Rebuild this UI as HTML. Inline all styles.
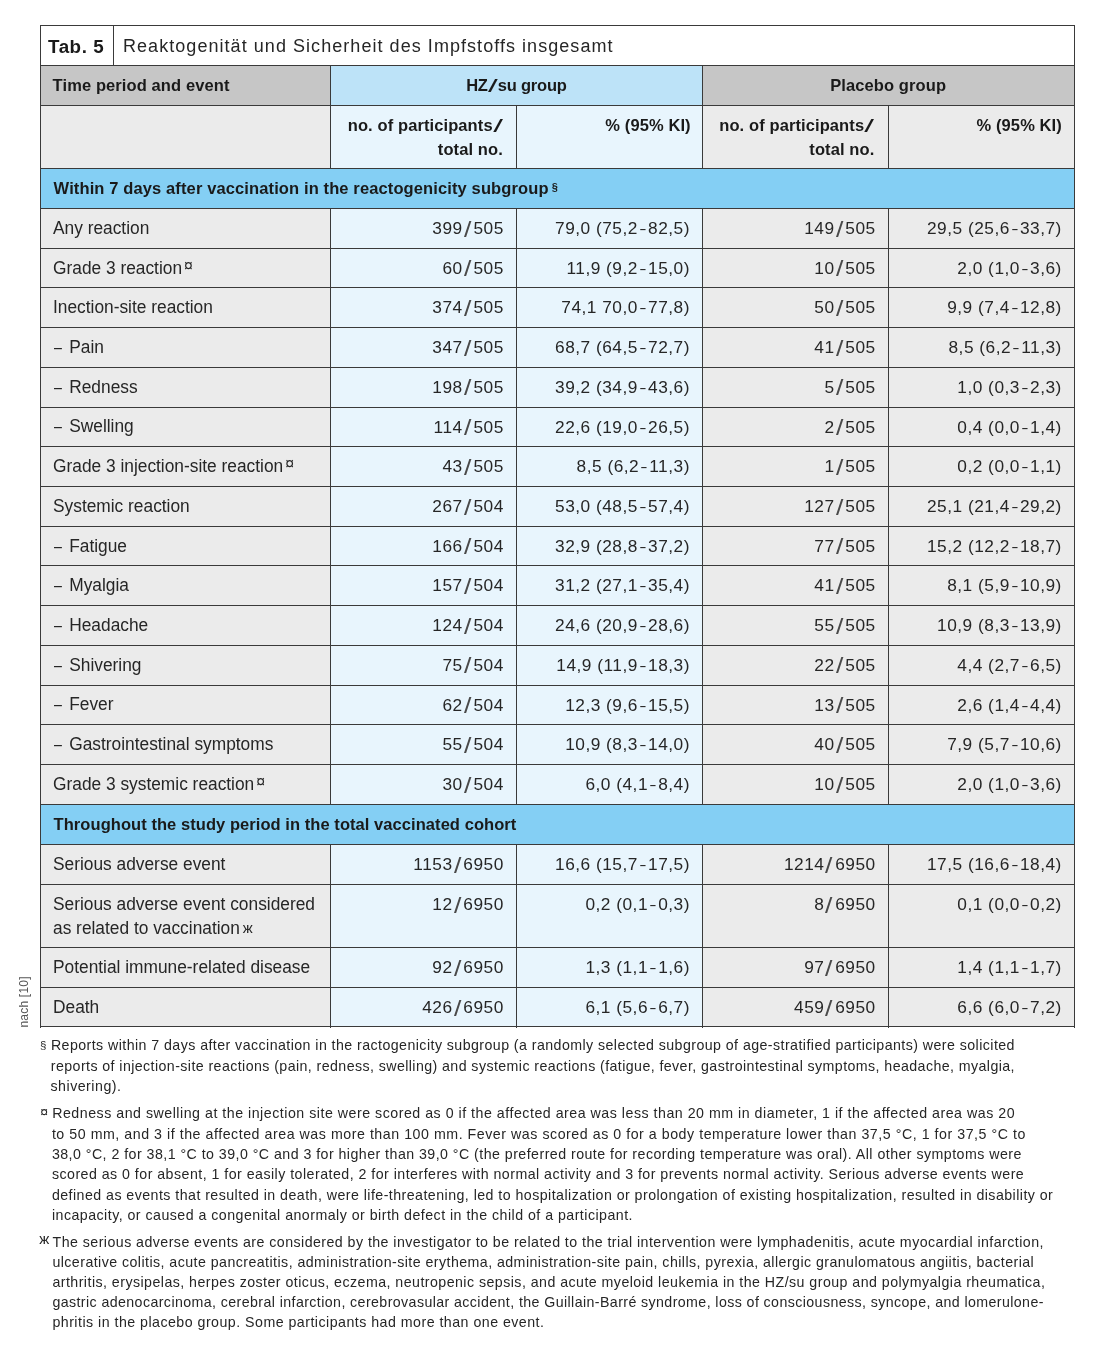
<!DOCTYPE html>
<html><head><meta charset="utf-8"><title>Tab. 5</title><style>
html,body{margin:0;padding:0;background:#fff;}
body{width:1100px;height:1355px;position:relative;overflow:hidden;font-family:"Liberation Sans",Arial,sans-serif;}
.r{position:absolute;}
.t{position:absolute;white-space:nowrap;font-family:"Liberation Sans",Arial,sans-serif;}

.sl{font-size:1.28em;line-height:0;display:inline-block;position:relative;top:0.12em;transform:scaleX(1.2);color:#4a4a4a;padding:0 2.5px 0 1.7px;}
.slh{font-weight:normal;font-size:1.12em;line-height:0;display:inline-block;transform:scaleX(1.9);padding:0 2.5px;position:relative;top:0.05em;}
.nd{display:inline-block;transform:scaleX(0.55);}
.da{display:inline-block;transform:scaleX(0.82);transform-origin:0 0;margin-left:1.4px;margin-right:0.4px;}
.sup{font-size:16px;line-height:0;position:relative;top:-3px;margin-left:2px;}
.sup2{font-size:15px;line-height:0;position:relative;top:-1.5px;margin-left:3px;}
.sec{font-size:11px;position:relative;top:-3px;margin-left:3px;font-weight:bold;}

.rot{font-size:12px;line-height:14px;color:#555;letter-spacing:0.2px;transform-origin:0 0;transform:translate(17px,1027.5px) rotate(-90deg);}
</style></head><body>
<div class="r" style="left:40.00px;top:25.70px;width:1034.00px;height:39.60px;background:#fff"></div>
<div class="r" style="left:40.00px;top:65.30px;width:290.50px;height:39.80px;background:#c6c6c6"></div>
<div class="r" style="left:330.50px;top:65.30px;width:371.80px;height:39.80px;background:#bde3f8"></div>
<div class="r" style="left:702.30px;top:65.30px;width:371.70px;height:39.80px;background:#c6c6c6"></div>
<div class="r" style="left:40.00px;top:105.10px;width:290.50px;height:63.10px;background:#ebebeb"></div>
<div class="r" style="left:330.50px;top:105.10px;width:371.80px;height:63.10px;background:#e8f5fd"></div>
<div class="r" style="left:702.30px;top:105.10px;width:371.70px;height:63.10px;background:#ebebeb"></div>
<div class="r" style="left:40.00px;top:168.20px;width:1034.00px;height:40.20px;background:#84cff4"></div>
<div class="r" style="left:40.00px;top:208.40px;width:290.50px;height:595.80px;background:#ebebeb"></div>
<div class="r" style="left:330.50px;top:208.40px;width:371.80px;height:595.80px;background:#e8f5fd"></div>
<div class="r" style="left:702.30px;top:208.40px;width:371.70px;height:595.80px;background:#ebebeb"></div>
<div class="r" style="left:40.00px;top:804.20px;width:1034.00px;height:40.30px;background:#84cff4"></div>
<div class="r" style="left:40.00px;top:844.50px;width:290.50px;height:182.50px;background:#ebebeb"></div>
<div class="r" style="left:330.50px;top:844.50px;width:371.80px;height:182.50px;background:#e8f5fd"></div>
<div class="r" style="left:702.30px;top:844.50px;width:371.70px;height:182.50px;background:#ebebeb"></div>
<div class="r" style="left:40px;top:25px;width:1035px;height:1px;background:#3a3a3a"></div>
<div class="r" style="left:40px;top:65px;width:1035px;height:1px;background:#3a3a3a"></div>
<div class="r" style="left:40px;top:105px;width:1035px;height:1px;background:#3a3a3a"></div>
<div class="r" style="left:40px;top:168px;width:1035px;height:1px;background:#3a3a3a"></div>
<div class="r" style="left:40px;top:208px;width:1035px;height:1px;background:#3a3a3a"></div>
<div class="r" style="left:40px;top:248px;width:1035px;height:1px;background:#3a3a3a"></div>
<div class="r" style="left:40px;top:287px;width:1035px;height:1px;background:#3a3a3a"></div>
<div class="r" style="left:40px;top:327px;width:1035px;height:1px;background:#3a3a3a"></div>
<div class="r" style="left:40px;top:367px;width:1035px;height:1px;background:#3a3a3a"></div>
<div class="r" style="left:40px;top:407px;width:1035px;height:1px;background:#3a3a3a"></div>
<div class="r" style="left:40px;top:446px;width:1035px;height:1px;background:#3a3a3a"></div>
<div class="r" style="left:40px;top:486px;width:1035px;height:1px;background:#3a3a3a"></div>
<div class="r" style="left:40px;top:526px;width:1035px;height:1px;background:#3a3a3a"></div>
<div class="r" style="left:40px;top:565px;width:1035px;height:1px;background:#3a3a3a"></div>
<div class="r" style="left:40px;top:605px;width:1035px;height:1px;background:#3a3a3a"></div>
<div class="r" style="left:40px;top:645px;width:1035px;height:1px;background:#3a3a3a"></div>
<div class="r" style="left:40px;top:685px;width:1035px;height:1px;background:#3a3a3a"></div>
<div class="r" style="left:40px;top:724px;width:1035px;height:1px;background:#3a3a3a"></div>
<div class="r" style="left:40px;top:764px;width:1035px;height:1px;background:#3a3a3a"></div>
<div class="r" style="left:40px;top:804px;width:1035px;height:1px;background:#3a3a3a"></div>
<div class="r" style="left:40px;top:844px;width:1035px;height:1px;background:#3a3a3a"></div>
<div class="r" style="left:40px;top:884px;width:1035px;height:1px;background:#3a3a3a"></div>
<div class="r" style="left:40px;top:947px;width:1035px;height:1px;background:#3a3a3a"></div>
<div class="r" style="left:40px;top:987px;width:1035px;height:1px;background:#3a3a3a"></div>
<div class="r" style="left:40px;top:1026px;width:1035px;height:1px;background:#3a3a3a"></div>
<div class="r" style="left:40px;top:25px;width:1px;height:1003px;background:#3a3a3a"></div>
<div class="r" style="left:1074px;top:25px;width:1px;height:1003px;background:#3a3a3a"></div>
<div class="r" style="left:113px;top:25px;width:1px;height:41px;background:#3a3a3a"></div>
<div class="r" style="left:330px;top:65px;width:1px;height:41px;background:#3a3a3a"></div>
<div class="r" style="left:702px;top:65px;width:1px;height:41px;background:#3a3a3a"></div>
<div class="r" style="left:330px;top:105px;width:1px;height:64px;background:#3a3a3a"></div>
<div class="r" style="left:516px;top:105px;width:1px;height:64px;background:#3a3a3a"></div>
<div class="r" style="left:702px;top:105px;width:1px;height:64px;background:#3a3a3a"></div>
<div class="r" style="left:888px;top:105px;width:1px;height:64px;background:#3a3a3a"></div>
<div class="r" style="left:330px;top:208px;width:1px;height:597px;background:#3a3a3a"></div>
<div class="r" style="left:516px;top:208px;width:1px;height:597px;background:#3a3a3a"></div>
<div class="r" style="left:702px;top:208px;width:1px;height:597px;background:#3a3a3a"></div>
<div class="r" style="left:888px;top:208px;width:1px;height:597px;background:#3a3a3a"></div>
<div class="r" style="left:330px;top:844px;width:1px;height:184px;background:#3a3a3a"></div>
<div class="r" style="left:516px;top:844px;width:1px;height:184px;background:#3a3a3a"></div>
<div class="r" style="left:702px;top:844px;width:1px;height:184px;background:#3a3a3a"></div>
<div class="r" style="left:888px;top:844px;width:1px;height:184px;background:#3a3a3a"></div>
<div class="t" style="left:48.00px;top:34.99px;font-size:18.8px;line-height:23px;font-weight:bold;letter-spacing:0.55px;color:#1a1a1a;">Tab. 5</div>
<div class="t" style="left:123.00px;top:35.16px;font-size:18px;line-height:22px;font-weight:normal;letter-spacing:1.05px;color:#262626;">Reaktogenität und Sicherheit des Impfstoffs insgesamt</div>
<div class="t" style="left:52.60px;top:75.18px;font-size:16.5px;line-height:20px;font-weight:bold;letter-spacing:0.1px;color:#1a1a1a;">Time period and event</div>
<div class="t" style="left:516.40px;transform:translateX(-50%);top:75.18px;font-size:16.5px;line-height:20px;font-weight:bold;letter-spacing:-0.2px;color:#1a1a1a;">HZ<span class="slh">/</span>su group</div>
<div class="t" style="left:888.15px;transform:translateX(-50%);top:75.18px;font-size:16.5px;line-height:20px;font-weight:bold;letter-spacing:0.1px;color:#1a1a1a;">Placebo group</div>
<div class="t" style="right:597.10px;top:114.78px;font-size:16.5px;line-height:20px;font-weight:bold;letter-spacing:0.1px;color:#1a1a1a;">no. of participants<span class="slh">/</span></div>
<div class="t" style="right:597.10px;top:139.38px;font-size:16.5px;line-height:20px;font-weight:bold;letter-spacing:0.1px;color:#1a1a1a;">total no.</div>
<div class="t" style="right:225.60px;top:114.78px;font-size:16.5px;line-height:20px;font-weight:bold;letter-spacing:0.1px;color:#1a1a1a;">no. of participants<span class="slh">/</span></div>
<div class="t" style="right:225.60px;top:139.38px;font-size:16.5px;line-height:20px;font-weight:bold;letter-spacing:0.1px;color:#1a1a1a;">total no.</div>
<div class="t" style="right:409.30px;top:114.78px;font-size:16.5px;line-height:20px;font-weight:bold;letter-spacing:0.1px;color:#1a1a1a;">% (95% KI)</div>
<div class="t" style="right:38.10px;top:114.78px;font-size:16.5px;line-height:20px;font-weight:bold;letter-spacing:0.1px;color:#1a1a1a;">% (95% KI)</div>
<div class="t" style="left:53.60px;top:178.38px;font-size:16.5px;line-height:20px;font-weight:bold;letter-spacing:0.12px;color:#1a1a1a;">Within 7 days after vaccination in the reactogenicity subgroup<span class="sec">§</span></div>
<div class="t" style="left:53.60px;top:814.38px;font-size:16.5px;line-height:20px;font-weight:bold;letter-spacing:0.06px;color:#1a1a1a;">Throughout the study period in the total vaccinated cohort</div>
<div class="t" style="left:52.70px;top:217.84px;font-size:17.5px;line-height:21px;font-weight:normal;letter-spacing:0px;color:#262626;transform:scaleX(0.99);transform-origin:0 0;">Any reaction</div>
<div class="t" style="right:596.20px;top:217.91px;font-size:17.3px;line-height:21px;font-weight:normal;letter-spacing:0.5px;color:#262626;">399<span class="sl">/</span>505</div>
<div class="t" style="right:410.10px;top:217.91px;font-size:17.3px;line-height:21px;font-weight:normal;letter-spacing:0.5px;color:#262626;">79,0 (75,2<span class="nd">–</span>82,5)</div>
<div class="t" style="right:224.30px;top:217.91px;font-size:17.3px;line-height:21px;font-weight:normal;letter-spacing:0.5px;color:#262626;">149<span class="sl">/</span>505</div>
<div class="t" style="right:38.20px;top:217.91px;font-size:17.3px;line-height:21px;font-weight:normal;letter-spacing:0.5px;color:#262626;">29,5 (25,6<span class="nd">–</span>33,7)</div>
<div class="t" style="left:52.70px;top:257.56px;font-size:17.5px;line-height:21px;font-weight:normal;letter-spacing:0px;color:#262626;transform:scaleX(0.99);transform-origin:0 0;">Grade 3 reaction<span class="sup">¤</span></div>
<div class="t" style="right:596.20px;top:257.63px;font-size:17.3px;line-height:21px;font-weight:normal;letter-spacing:0.5px;color:#262626;">60<span class="sl">/</span>505</div>
<div class="t" style="right:410.10px;top:257.63px;font-size:17.3px;line-height:21px;font-weight:normal;letter-spacing:0.5px;color:#262626;">11,9 (9,2<span class="nd">–</span>15,0)</div>
<div class="t" style="right:224.30px;top:257.63px;font-size:17.3px;line-height:21px;font-weight:normal;letter-spacing:0.5px;color:#262626;">10<span class="sl">/</span>505</div>
<div class="t" style="right:38.20px;top:257.63px;font-size:17.3px;line-height:21px;font-weight:normal;letter-spacing:0.5px;color:#262626;">2,0 (1,0<span class="nd">–</span>3,6)</div>
<div class="t" style="left:52.70px;top:297.28px;font-size:17.5px;line-height:21px;font-weight:normal;letter-spacing:0px;color:#262626;transform:scaleX(0.99);transform-origin:0 0;">Inection-site reaction</div>
<div class="t" style="right:596.20px;top:297.35px;font-size:17.3px;line-height:21px;font-weight:normal;letter-spacing:0.5px;color:#262626;">374<span class="sl">/</span>505</div>
<div class="t" style="right:410.10px;top:297.35px;font-size:17.3px;line-height:21px;font-weight:normal;letter-spacing:0.5px;color:#262626;">74,1 70,0<span class="nd">–</span>77,8)</div>
<div class="t" style="right:224.30px;top:297.35px;font-size:17.3px;line-height:21px;font-weight:normal;letter-spacing:0.5px;color:#262626;">50<span class="sl">/</span>505</div>
<div class="t" style="right:38.20px;top:297.35px;font-size:17.3px;line-height:21px;font-weight:normal;letter-spacing:0.5px;color:#262626;">9,9 (7,4<span class="nd">–</span>12,8)</div>
<div class="t" style="left:52.70px;top:337.00px;font-size:17.5px;line-height:21px;font-weight:normal;letter-spacing:0px;color:#262626;transform:scaleX(0.99);transform-origin:0 0;"><span class="da">–</span> Pain</div>
<div class="t" style="right:596.20px;top:337.07px;font-size:17.3px;line-height:21px;font-weight:normal;letter-spacing:0.5px;color:#262626;">347<span class="sl">/</span>505</div>
<div class="t" style="right:410.10px;top:337.07px;font-size:17.3px;line-height:21px;font-weight:normal;letter-spacing:0.5px;color:#262626;">68,7 (64,5<span class="nd">–</span>72,7)</div>
<div class="t" style="right:224.30px;top:337.07px;font-size:17.3px;line-height:21px;font-weight:normal;letter-spacing:0.5px;color:#262626;">41<span class="sl">/</span>505</div>
<div class="t" style="right:38.20px;top:337.07px;font-size:17.3px;line-height:21px;font-weight:normal;letter-spacing:0.5px;color:#262626;">8,5 (6,2<span class="nd">–</span>11,3)</div>
<div class="t" style="left:52.70px;top:376.72px;font-size:17.5px;line-height:21px;font-weight:normal;letter-spacing:0px;color:#262626;transform:scaleX(0.99);transform-origin:0 0;"><span class="da">–</span> Redness</div>
<div class="t" style="right:596.20px;top:376.79px;font-size:17.3px;line-height:21px;font-weight:normal;letter-spacing:0.5px;color:#262626;">198<span class="sl">/</span>505</div>
<div class="t" style="right:410.10px;top:376.79px;font-size:17.3px;line-height:21px;font-weight:normal;letter-spacing:0.5px;color:#262626;">39,2 (34,9<span class="nd">–</span>43,6)</div>
<div class="t" style="right:224.30px;top:376.79px;font-size:17.3px;line-height:21px;font-weight:normal;letter-spacing:0.5px;color:#262626;">5<span class="sl">/</span>505</div>
<div class="t" style="right:38.20px;top:376.79px;font-size:17.3px;line-height:21px;font-weight:normal;letter-spacing:0.5px;color:#262626;">1,0 (0,3<span class="nd">–</span>2,3)</div>
<div class="t" style="left:52.70px;top:416.44px;font-size:17.5px;line-height:21px;font-weight:normal;letter-spacing:0px;color:#262626;transform:scaleX(0.99);transform-origin:0 0;"><span class="da">–</span> Swelling</div>
<div class="t" style="right:596.20px;top:416.51px;font-size:17.3px;line-height:21px;font-weight:normal;letter-spacing:0.5px;color:#262626;">114<span class="sl">/</span>505</div>
<div class="t" style="right:410.10px;top:416.51px;font-size:17.3px;line-height:21px;font-weight:normal;letter-spacing:0.5px;color:#262626;">22,6 (19,0<span class="nd">–</span>26,5)</div>
<div class="t" style="right:224.30px;top:416.51px;font-size:17.3px;line-height:21px;font-weight:normal;letter-spacing:0.5px;color:#262626;">2<span class="sl">/</span>505</div>
<div class="t" style="right:38.20px;top:416.51px;font-size:17.3px;line-height:21px;font-weight:normal;letter-spacing:0.5px;color:#262626;">0,4 (0,0<span class="nd">–</span>1,4)</div>
<div class="t" style="left:52.70px;top:456.16px;font-size:17.5px;line-height:21px;font-weight:normal;letter-spacing:0px;color:#262626;transform:scaleX(0.99);transform-origin:0 0;">Grade 3 injection-site reaction<span class="sup">¤</span></div>
<div class="t" style="right:596.20px;top:456.23px;font-size:17.3px;line-height:21px;font-weight:normal;letter-spacing:0.5px;color:#262626;">43<span class="sl">/</span>505</div>
<div class="t" style="right:410.10px;top:456.23px;font-size:17.3px;line-height:21px;font-weight:normal;letter-spacing:0.5px;color:#262626;">8,5 (6,2<span class="nd">–</span>11,3)</div>
<div class="t" style="right:224.30px;top:456.23px;font-size:17.3px;line-height:21px;font-weight:normal;letter-spacing:0.5px;color:#262626;">1<span class="sl">/</span>505</div>
<div class="t" style="right:38.20px;top:456.23px;font-size:17.3px;line-height:21px;font-weight:normal;letter-spacing:0.5px;color:#262626;">0,2 (0,0<span class="nd">–</span>1,1)</div>
<div class="t" style="left:52.70px;top:495.88px;font-size:17.5px;line-height:21px;font-weight:normal;letter-spacing:0px;color:#262626;transform:scaleX(0.99);transform-origin:0 0;">Systemic reaction</div>
<div class="t" style="right:596.20px;top:495.95px;font-size:17.3px;line-height:21px;font-weight:normal;letter-spacing:0.5px;color:#262626;">267<span class="sl">/</span>504</div>
<div class="t" style="right:410.10px;top:495.95px;font-size:17.3px;line-height:21px;font-weight:normal;letter-spacing:0.5px;color:#262626;">53,0 (48,5<span class="nd">–</span>57,4)</div>
<div class="t" style="right:224.30px;top:495.95px;font-size:17.3px;line-height:21px;font-weight:normal;letter-spacing:0.5px;color:#262626;">127<span class="sl">/</span>505</div>
<div class="t" style="right:38.20px;top:495.95px;font-size:17.3px;line-height:21px;font-weight:normal;letter-spacing:0.5px;color:#262626;">25,1 (21,4<span class="nd">–</span>29,2)</div>
<div class="t" style="left:52.70px;top:535.60px;font-size:17.5px;line-height:21px;font-weight:normal;letter-spacing:0px;color:#262626;transform:scaleX(0.99);transform-origin:0 0;"><span class="da">–</span> Fatigue</div>
<div class="t" style="right:596.20px;top:535.67px;font-size:17.3px;line-height:21px;font-weight:normal;letter-spacing:0.5px;color:#262626;">166<span class="sl">/</span>504</div>
<div class="t" style="right:410.10px;top:535.67px;font-size:17.3px;line-height:21px;font-weight:normal;letter-spacing:0.5px;color:#262626;">32,9 (28,8<span class="nd">–</span>37,2)</div>
<div class="t" style="right:224.30px;top:535.67px;font-size:17.3px;line-height:21px;font-weight:normal;letter-spacing:0.5px;color:#262626;">77<span class="sl">/</span>505</div>
<div class="t" style="right:38.20px;top:535.67px;font-size:17.3px;line-height:21px;font-weight:normal;letter-spacing:0.5px;color:#262626;">15,2 (12,2<span class="nd">–</span>18,7)</div>
<div class="t" style="left:52.70px;top:575.32px;font-size:17.5px;line-height:21px;font-weight:normal;letter-spacing:0px;color:#262626;transform:scaleX(0.99);transform-origin:0 0;"><span class="da">–</span> Myalgia</div>
<div class="t" style="right:596.20px;top:575.39px;font-size:17.3px;line-height:21px;font-weight:normal;letter-spacing:0.5px;color:#262626;">157<span class="sl">/</span>504</div>
<div class="t" style="right:410.10px;top:575.39px;font-size:17.3px;line-height:21px;font-weight:normal;letter-spacing:0.5px;color:#262626;">31,2 (27,1<span class="nd">–</span>35,4)</div>
<div class="t" style="right:224.30px;top:575.39px;font-size:17.3px;line-height:21px;font-weight:normal;letter-spacing:0.5px;color:#262626;">41<span class="sl">/</span>505</div>
<div class="t" style="right:38.20px;top:575.39px;font-size:17.3px;line-height:21px;font-weight:normal;letter-spacing:0.5px;color:#262626;">8,1 (5,9<span class="nd">–</span>10,9)</div>
<div class="t" style="left:52.70px;top:615.04px;font-size:17.5px;line-height:21px;font-weight:normal;letter-spacing:0px;color:#262626;transform:scaleX(0.99);transform-origin:0 0;"><span class="da">–</span> Headache</div>
<div class="t" style="right:596.20px;top:615.11px;font-size:17.3px;line-height:21px;font-weight:normal;letter-spacing:0.5px;color:#262626;">124<span class="sl">/</span>504</div>
<div class="t" style="right:410.10px;top:615.11px;font-size:17.3px;line-height:21px;font-weight:normal;letter-spacing:0.5px;color:#262626;">24,6 (20,9<span class="nd">–</span>28,6)</div>
<div class="t" style="right:224.30px;top:615.11px;font-size:17.3px;line-height:21px;font-weight:normal;letter-spacing:0.5px;color:#262626;">55<span class="sl">/</span>505</div>
<div class="t" style="right:38.20px;top:615.11px;font-size:17.3px;line-height:21px;font-weight:normal;letter-spacing:0.5px;color:#262626;">10,9 (8,3<span class="nd">–</span>13,9)</div>
<div class="t" style="left:52.70px;top:654.76px;font-size:17.5px;line-height:21px;font-weight:normal;letter-spacing:0px;color:#262626;transform:scaleX(0.99);transform-origin:0 0;"><span class="da">–</span> Shivering</div>
<div class="t" style="right:596.20px;top:654.83px;font-size:17.3px;line-height:21px;font-weight:normal;letter-spacing:0.5px;color:#262626;">75<span class="sl">/</span>504</div>
<div class="t" style="right:410.10px;top:654.83px;font-size:17.3px;line-height:21px;font-weight:normal;letter-spacing:0.5px;color:#262626;">14,9 (11,9<span class="nd">–</span>18,3)</div>
<div class="t" style="right:224.30px;top:654.83px;font-size:17.3px;line-height:21px;font-weight:normal;letter-spacing:0.5px;color:#262626;">22<span class="sl">/</span>505</div>
<div class="t" style="right:38.20px;top:654.83px;font-size:17.3px;line-height:21px;font-weight:normal;letter-spacing:0.5px;color:#262626;">4,4 (2,7<span class="nd">–</span>6,5)</div>
<div class="t" style="left:52.70px;top:694.48px;font-size:17.5px;line-height:21px;font-weight:normal;letter-spacing:0px;color:#262626;transform:scaleX(0.99);transform-origin:0 0;"><span class="da">–</span> Fever</div>
<div class="t" style="right:596.20px;top:694.55px;font-size:17.3px;line-height:21px;font-weight:normal;letter-spacing:0.5px;color:#262626;">62<span class="sl">/</span>504</div>
<div class="t" style="right:410.10px;top:694.55px;font-size:17.3px;line-height:21px;font-weight:normal;letter-spacing:0.5px;color:#262626;">12,3 (9,6<span class="nd">–</span>15,5)</div>
<div class="t" style="right:224.30px;top:694.55px;font-size:17.3px;line-height:21px;font-weight:normal;letter-spacing:0.5px;color:#262626;">13<span class="sl">/</span>505</div>
<div class="t" style="right:38.20px;top:694.55px;font-size:17.3px;line-height:21px;font-weight:normal;letter-spacing:0.5px;color:#262626;">2,6 (1,4<span class="nd">–</span>4,4)</div>
<div class="t" style="left:52.70px;top:734.20px;font-size:17.5px;line-height:21px;font-weight:normal;letter-spacing:0px;color:#262626;transform:scaleX(0.99);transform-origin:0 0;"><span class="da">–</span> Gastrointestinal symptoms</div>
<div class="t" style="right:596.20px;top:734.27px;font-size:17.3px;line-height:21px;font-weight:normal;letter-spacing:0.5px;color:#262626;">55<span class="sl">/</span>504</div>
<div class="t" style="right:410.10px;top:734.27px;font-size:17.3px;line-height:21px;font-weight:normal;letter-spacing:0.5px;color:#262626;">10,9 (8,3<span class="nd">–</span>14,0)</div>
<div class="t" style="right:224.30px;top:734.27px;font-size:17.3px;line-height:21px;font-weight:normal;letter-spacing:0.5px;color:#262626;">40<span class="sl">/</span>505</div>
<div class="t" style="right:38.20px;top:734.27px;font-size:17.3px;line-height:21px;font-weight:normal;letter-spacing:0.5px;color:#262626;">7,9 (5,7<span class="nd">–</span>10,6)</div>
<div class="t" style="left:52.70px;top:773.92px;font-size:17.5px;line-height:21px;font-weight:normal;letter-spacing:0px;color:#262626;transform:scaleX(0.99);transform-origin:0 0;">Grade 3 systemic reaction<span class="sup">¤</span></div>
<div class="t" style="right:596.20px;top:773.99px;font-size:17.3px;line-height:21px;font-weight:normal;letter-spacing:0.5px;color:#262626;">30<span class="sl">/</span>504</div>
<div class="t" style="right:410.10px;top:773.99px;font-size:17.3px;line-height:21px;font-weight:normal;letter-spacing:0.5px;color:#262626;">6,0 (4,1<span class="nd">–</span>8,4)</div>
<div class="t" style="right:224.30px;top:773.99px;font-size:17.3px;line-height:21px;font-weight:normal;letter-spacing:0.5px;color:#262626;">10<span class="sl">/</span>505</div>
<div class="t" style="right:38.20px;top:773.99px;font-size:17.3px;line-height:21px;font-weight:normal;letter-spacing:0.5px;color:#262626;">2,0 (1,0<span class="nd">–</span>3,6)</div>
<div class="t" style="left:52.70px;top:853.94px;font-size:17.5px;line-height:21px;font-weight:normal;letter-spacing:0px;color:#262626;transform:scaleX(0.99);transform-origin:0 0;">Serious adverse event</div>
<div class="t" style="right:596.20px;top:854.01px;font-size:17.3px;line-height:21px;font-weight:normal;letter-spacing:0.5px;color:#262626;">1153<span class="sl">/</span>6950</div>
<div class="t" style="right:410.10px;top:854.01px;font-size:17.3px;line-height:21px;font-weight:normal;letter-spacing:0.5px;color:#262626;">16,6 (15,7<span class="nd">–</span>17,5)</div>
<div class="t" style="right:224.30px;top:854.01px;font-size:17.3px;line-height:21px;font-weight:normal;letter-spacing:0.5px;color:#262626;">1214<span class="sl">/</span>6950</div>
<div class="t" style="right:38.20px;top:854.01px;font-size:17.3px;line-height:21px;font-weight:normal;letter-spacing:0.5px;color:#262626;">17,5 (16,6<span class="nd">–</span>18,4)</div>
<div class="t" style="left:52.70px;top:893.84px;font-size:17.5px;line-height:21px;font-weight:normal;letter-spacing:0px;color:#262626;transform:scaleX(0.99);transform-origin:0 0;">Serious adverse event considered</div>
<div class="t" style="left:52.70px;top:918.34px;font-size:17.5px;line-height:21px;font-weight:normal;letter-spacing:0px;color:#262626;transform:scaleX(0.99);transform-origin:0 0;">as related to vaccination<span class="sup2">ж</span></div>
<div class="t" style="right:596.20px;top:893.91px;font-size:17.3px;line-height:21px;font-weight:normal;letter-spacing:0.5px;color:#262626;">12<span class="sl">/</span>6950</div>
<div class="t" style="right:410.10px;top:893.91px;font-size:17.3px;line-height:21px;font-weight:normal;letter-spacing:0.5px;color:#262626;">0,2 (0,1<span class="nd">–</span>0,3)</div>
<div class="t" style="right:224.30px;top:893.91px;font-size:17.3px;line-height:21px;font-weight:normal;letter-spacing:0.5px;color:#262626;">8<span class="sl">/</span>6950</div>
<div class="t" style="right:38.20px;top:893.91px;font-size:17.3px;line-height:21px;font-weight:normal;letter-spacing:0.5px;color:#262626;">0,1 (0,0<span class="nd">–</span>0,2)</div>
<div class="t" style="left:52.70px;top:957.14px;font-size:17.5px;line-height:21px;font-weight:normal;letter-spacing:0px;color:#262626;transform:scaleX(0.99);transform-origin:0 0;">Potential immune-related disease</div>
<div class="t" style="right:596.20px;top:957.21px;font-size:17.3px;line-height:21px;font-weight:normal;letter-spacing:0.5px;color:#262626;">92<span class="sl">/</span>6950</div>
<div class="t" style="right:410.10px;top:957.21px;font-size:17.3px;line-height:21px;font-weight:normal;letter-spacing:0.5px;color:#262626;">1,3 (1,1<span class="nd">–</span>1,6)</div>
<div class="t" style="right:224.30px;top:957.21px;font-size:17.3px;line-height:21px;font-weight:normal;letter-spacing:0.5px;color:#262626;">97<span class="sl">/</span>6950</div>
<div class="t" style="right:38.20px;top:957.21px;font-size:17.3px;line-height:21px;font-weight:normal;letter-spacing:0.5px;color:#262626;">1,4 (1,1<span class="nd">–</span>1,7)</div>
<div class="t" style="left:52.70px;top:997.14px;font-size:17.5px;line-height:21px;font-weight:normal;letter-spacing:0px;color:#262626;transform:scaleX(0.99);transform-origin:0 0;">Death</div>
<div class="t" style="right:596.20px;top:997.21px;font-size:17.3px;line-height:21px;font-weight:normal;letter-spacing:0.5px;color:#262626;">426<span class="sl">/</span>6950</div>
<div class="t" style="right:410.10px;top:997.21px;font-size:17.3px;line-height:21px;font-weight:normal;letter-spacing:0.5px;color:#262626;">6,1 (5,6<span class="nd">–</span>6,7)</div>
<div class="t" style="right:224.30px;top:997.21px;font-size:17.3px;line-height:21px;font-weight:normal;letter-spacing:0.5px;color:#262626;">459<span class="sl">/</span>6950</div>
<div class="t" style="right:38.20px;top:997.21px;font-size:17.3px;line-height:21px;font-weight:normal;letter-spacing:0.5px;color:#262626;">6,6 (6,0<span class="nd">–</span>7,2)</div>
<div class="t" style="left:40.10px;top:1037.92px;font-size:11.5px;line-height:14px;font-weight:normal;letter-spacing:0px;color:#262626;">§</div>
<div class="t" style="left:50.90px;top:1037.48px;font-size:14.2px;line-height:17px;font-weight:normal;letter-spacing:0.44px;color:#262626;">Reports within 7 days after vaccination in the ractogenicity subgroup (a randomly selected subgroup of age-stratified participants) were solicited</div>
<div class="t" style="left:50.80px;top:1057.58px;font-size:14.2px;line-height:17px;font-weight:normal;letter-spacing:0.422px;color:#262626;">reports of injection-site reactions (pain, redness, swelling) and systemic reactions (fatigue, fever, gastrointestinal symptoms, headache, myalgia,</div>
<div class="t" style="left:50.50px;top:1077.68px;font-size:14.2px;line-height:17px;font-weight:normal;letter-spacing:0.5px;color:#262626;">shivering).</div>
<div class="t" style="left:40.30px;top:1103.85px;font-size:14px;line-height:17px;font-weight:normal;letter-spacing:0px;color:#262626;">¤</div>
<div class="t" style="left:52.20px;top:1105.48px;font-size:14.2px;line-height:17px;font-weight:normal;letter-spacing:0.516px;color:#262626;">Redness and swelling at the injection site were scored as 0 if the affected area was less than 20 mm in diameter, 1 if the affected area was 20</div>
<div class="t" style="left:51.90px;top:1125.78px;font-size:14.2px;line-height:17px;font-weight:normal;letter-spacing:0.541px;color:#262626;">to 50 mm, and 3 if the affected area was more than 100 mm. Fever was scored as 0 for a body temperature lower than 37,5 °C, 1 for 37,5 °C to</div>
<div class="t" style="left:51.90px;top:1146.08px;font-size:14.2px;line-height:17px;font-weight:normal;letter-spacing:0.463px;color:#262626;">38,0 °C, 2 for 38,1 °C to 39,0 °C and 3 for higher than 39,0 °C (the preferred route for recording temperature was oral). All other symptoms were</div>
<div class="t" style="left:51.90px;top:1166.38px;font-size:14.2px;line-height:17px;font-weight:normal;letter-spacing:0.473px;color:#262626;">scored as 0 for absent, 1 for easily tolerated, 2 for interferes with normal activity and 3 for prevents normal activity. Serious adverse events were</div>
<div class="t" style="left:51.90px;top:1186.68px;font-size:14.2px;line-height:17px;font-weight:normal;letter-spacing:0.458px;color:#262626;">defined as events that resulted in death, were life-threatening, led to hospitalization or prolongation of existing hospitalization, resulted in disability or</div>
<div class="t" style="left:51.90px;top:1206.98px;font-size:14.2px;line-height:17px;font-weight:normal;letter-spacing:0.475px;color:#262626;">incapacity, or caused a congenital anormaly or birth defect in the child of a participant.</div>
<div class="t" style="left:39.30px;top:1230.10px;font-size:15px;line-height:18px;font-weight:normal;letter-spacing:0px;color:#262626;">ж</div>
<div class="t" style="left:52.60px;top:1233.88px;font-size:14.2px;line-height:17px;font-weight:normal;letter-spacing:0.452px;color:#262626;">The serious adverse events are considered by the investigator to be related to the trial intervention were lymphadenitis, acute myocardial infarction,</div>
<div class="t" style="left:52.40px;top:1254.03px;font-size:14.2px;line-height:17px;font-weight:normal;letter-spacing:0.448px;color:#262626;">ulcerative colitis, acute pancreatitis, administration-site erythema, administration-site pain, chills, pyrexia, allergic granulomatous angiitis, bacterial</div>
<div class="t" style="left:52.40px;top:1274.18px;font-size:14.2px;line-height:17px;font-weight:normal;letter-spacing:0.46px;color:#262626;">arthritis, erysipelas, herpes zoster oticus, eczema, neutropenic sepsis, and acute myeloid leukemia in the HZ/su group and polymyalgia rheumatica,</div>
<div class="t" style="left:52.40px;top:1294.33px;font-size:14.2px;line-height:17px;font-weight:normal;letter-spacing:0.412px;color:#262626;">gastric adenocarcinoma, cerebral infarction, cerebrovasular accident, the Guillain-Barré syndrome, loss of consciousness, syncope, and lomerulone-</div>
<div class="t" style="left:52.40px;top:1314.48px;font-size:14.2px;line-height:17px;font-weight:normal;letter-spacing:0.481px;color:#262626;">phritis in the placebo group. Some participants had more than one event.</div>
<div class="t rot" style="left:0px;top:0px;">nach [10]</div>
</body></html>
